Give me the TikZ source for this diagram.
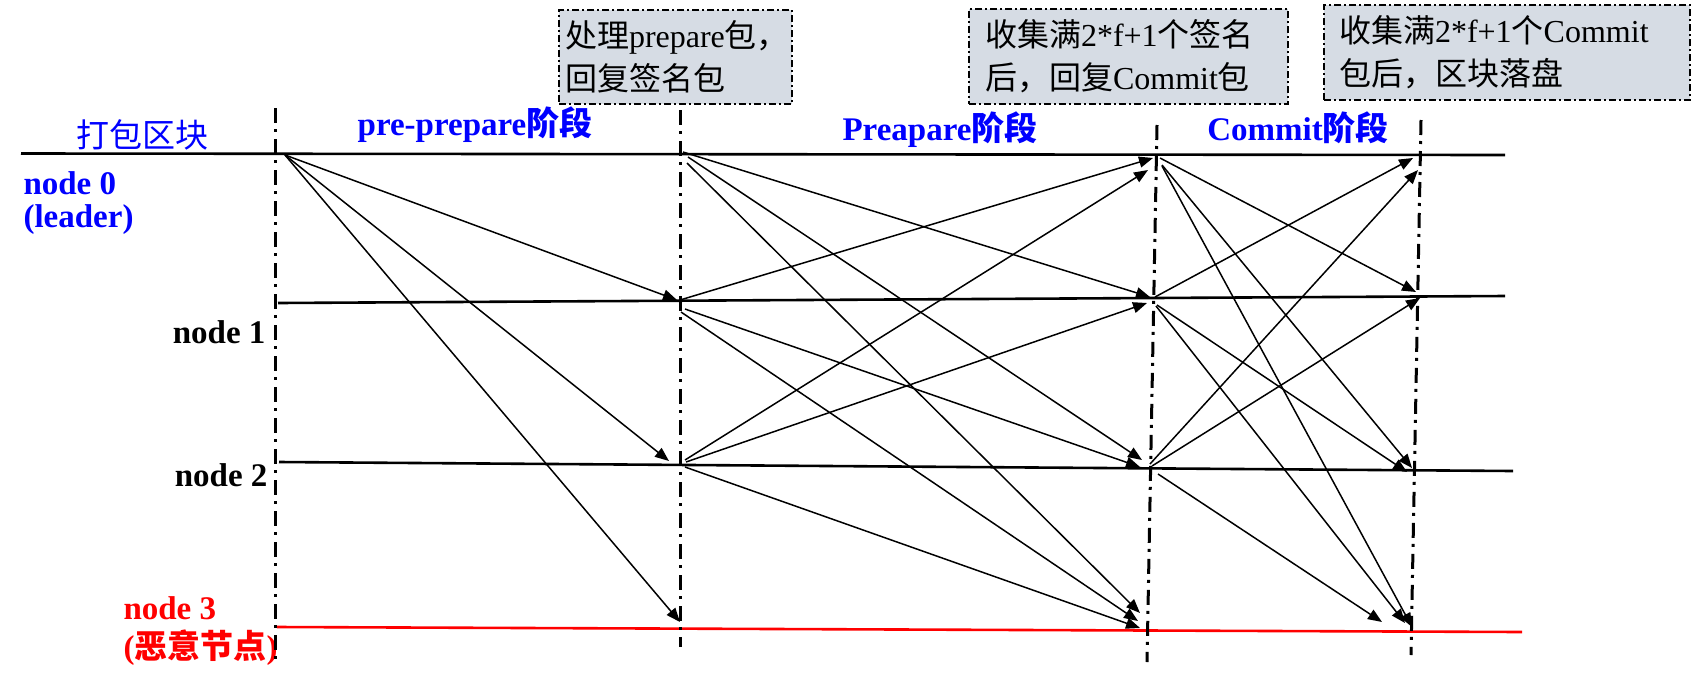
\documentclass[tikz,border=0pt]{standalone}
\usepackage{fontspec}
\setmainfont{Liberation Serif}
\newfontfamily\cjk{Noto Sans CJK SC}
\usetikzlibrary{arrows.meta}
\definecolor{boxgray}{RGB}{214,220,228}
\newcommand\zh[1]{{\cjk #1}}
\begin{document}
\begin{tikzpicture}[x=1pt,y=-1pt,
  vline/.style={line width=3pt, dash pattern=on 15pt off 6pt on 3pt off 7pt},
  hline/.style={line width=2.6pt},
  arr/.style={line width=1.5pt, -{Triangle[length=14pt,width=11pt]}},
  infobox/.style={draw, fill=boxgray, line width=2pt, dash pattern=on 7pt off 3pt on 2pt off 3pt,
    anchor=north west, inner ysep=3pt, align=left, font=\fontsize{32}{43}\selectfont},
  phase/.style={text=blue, font=\fontsize{33}{40}\selectfont\bfseries},
  lab/.style={font=\fontsize{33}{37}\selectfont\bfseries}]
\useasboundingbox (0,0) rectangle (1691,686);

% boxes
\node[infobox, minimum width=233pt, minimum height=94pt, text width=221pt, inner xsep=6pt] (b1) at (558,9)
  {\zh{处理}prepare\zh{包，}\\\zh{回复签名包}};
\node[infobox, minimum width=319pt, minimum height=95pt, text width=287pt, inner xsep=16pt] (b2) at (968,8)
  {\zh{收集满}2*f+1\zh{个签名}\\\zh{后，回复}Commit\zh{包}};
\node[infobox, minimum width=366pt, minimum height=95pt, text width=336pt, inner xsep=15pt] (b3) at (1323,4)
  {\zh{收集满}2*f+1\zh{个}Commit\\\zh{包后，区块落盘}};

% phase labels
\node[text=blue, font=\fontsize{33}{40}\selectfont] (pack) at (142,135) {\zh{打包区块}};
\node[phase] (ph1) at (475,125) {pre-prepare\zh{阶段}};
\node[phase] (ph2) at (940,130) {Preapare\zh{阶段}};
\node[phase] (ph3) at (1298,128) {Commit\zh{阶段}};

% node labels
\node[lab, text=blue, anchor=west] (l0) at (20,183) {node 0};
\node[lab, text=blue, anchor=west] (l0b) at (20,220) {(leader)};
\node[lab, anchor=east] (l1) at (269,332) {node 1};
\node[lab, anchor=east] (l2) at (271,475) {node 2};
\node[lab, text=red, anchor=west] (l3) at (120,608) {node 3};
\node[lab, text=red, anchor=west] (l3b) at (120,648) {(\zh{恶意节点})};

% timelines
\coordinate (h0a) at (21,153.5);  \coordinate (h0b) at (1505,155);
\coordinate (h1a) at (278,303);   \coordinate (h1b) at (1505,296);
\coordinate (h2a) at (279,462);   \coordinate (h2b) at (1513,471);
\coordinate (h3a) at (277,627);   \coordinate (h3b) at (1522,632);
\draw[hline] (h0a) -- (h0b);
\draw[hline] (h1a) -- (h1b);
\draw[hline] (h2a) -- (h2b);
\draw[hline, red] (h3a) -- (h3b);

% phase separators
\coordinate (v1a) at (275,108);  \coordinate (v1b) at (275,660);
\coordinate (v2a) at (680,110);  \coordinate (v2b) at (680,647);
\coordinate (v3a) at (1157,125); \coordinate (v3b) at (1147,662);
\coordinate (v4a) at (1421,120); \coordinate (v4b) at (1411,655);
\draw[vline] (v1a) -- (v1b);
\draw[vline] (v2a) -- (v2b);
\draw[vline] (v3a) -- (v3b);
\draw[vline] (v4a) -- (v4b);

% pre-prepare
\coordinate (pp0) at (285,155);
\coordinate (pp1) at (677,300);
\coordinate (pp2) at (669,461);
\coordinate (pp3) at (680,622);
\draw[arr] (pp0) -- (pp1);
\draw[arr] (pp0) -- (pp2);
\draw[arr] (pp0) -- (pp3);

% prepare
\coordinate (p0a) at (683,152); \coordinate (q0a) at (1150,297);
\coordinate (p0b) at (688,157); \coordinate (q0b) at (1142,460);
\coordinate (p0c) at (687,163); \coordinate (q0c) at (1140,613);
\coordinate (p1a) at (680,300); \coordinate (q1a) at (1153,158);
\coordinate (p1b) at (685,309); \coordinate (q1b) at (1140,467);
\coordinate (p1c) at (681,312); \coordinate (q1c) at (1138,621);
\coordinate (p2a) at (685,460); \coordinate (q2a) at (1148,170);
\coordinate (p2b) at (686,462); \coordinate (q2b) at (1147,303);
\coordinate (p2c) at (685,467); \coordinate (q2c) at (1140,628);
\foreach \s in {0a,0b,0c,1a,1b,1c,2a,2b,2c} \draw[arr] (p\s) -- (q\s);

% commit
\coordinate (c0a) at (1160,158); \coordinate (d0a) at (1416,292);
\coordinate (c0b) at (1162,165); \coordinate (d0b) at (1412,468);
\coordinate (c0c) at (1162,166); \coordinate (d0c) at (1412,627);
\coordinate (c1a) at (1155,297); \coordinate (d1a) at (1413,158);
\coordinate (c1b) at (1157,305); \coordinate (d1b) at (1407,472);
\coordinate (c1c) at (1156,306); \coordinate (d1c) at (1405,623);
\coordinate (c2a) at (1150,464); \coordinate (d2a) at (1418,170);
\coordinate (c2b) at (1152,466); \coordinate (d2b) at (1420,298);
\coordinate (c2c) at (1158,474); \coordinate (d2c) at (1382,622);
\foreach \s in {0a,0b,0c,1a,1b,1c,2a,2b,2c} \draw[arr] (c\s) -- (d\s);
\end{tikzpicture}
\end{document}
